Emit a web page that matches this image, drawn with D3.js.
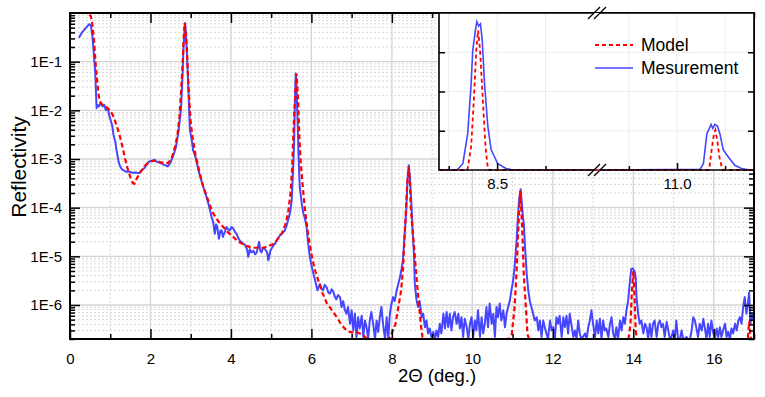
<!DOCTYPE html>
<html>
<head>
<meta charset="UTF-8">
<script src="https://d3js.org/d3.v7.min.js"></script>
<style>
  body { margin: 0; background: #fff; }
  text { font-family: Arial, "Liberation Sans", sans-serif; fill: #000; }
</style>
</head>
<body>
<div id="chart"></div>
<script>
// ---- values ----
// measured reflectivity, [2theta, R]
var measurement = [
  [0.22,0.31],[0.30,0.40],[0.40,0.50],[0.48,0.59],[0.52,0.55],[0.56,0.31],[0.60,0.12],[0.63,0.054],
  [0.66,0.011],[0.68,0.013],[0.72,0.012],[0.77,0.0145],[0.81,0.012],[0.85,0.013],[0.89,0.010],[0.94,0.011],
  [0.98,0.0075],[1.02,0.0059],[1.05,0.0048],[1.08,0.0032],[1.10,0.0027],[1.13,0.0022],[1.15,0.0016],[1.18,0.0012],
  [1.21,0.00085],[1.23,0.00076],[1.27,0.00065],[1.31,0.0006],[1.39,0.00055],[1.47,0.00055],[1.55,0.00052],[1.64,0.00053],
  [1.72,0.00051],[1.78,0.00058],[1.85,0.00065],[1.91,0.00078],[1.97,0.00089],[2.03,0.00092],[2.10,0.00096],[2.16,0.00088],
  [2.22,0.00085],[2.28,0.0008],[2.34,0.00076],[2.40,0.00072],[2.43,0.0007],[2.47,0.00078],[2.51,0.00089],[2.57,0.0012],
  [2.63,0.0017],[2.70,0.0038],[2.76,0.011],[2.80,0.06],[2.82,0.19],[2.86,0.62],[2.88,0.40],[2.90,0.19],
  [2.93,0.05],[2.96,0.011],[2.98,0.004],[3.03,0.0023],[3.06,0.0015],[3.12,0.0011],[3.19,0.00059],[3.25,0.0004],
  [3.31,0.00027],[3.38,0.00018],[3.44,0.00012],[3.52,0.000064],[3.56,0.00005],[3.60,0.000029],[3.63,0.000045],[3.66,0.00004],
  [3.70,0.000023],[3.74,0.000034],[3.77,0.000034],[3.80,0.000025],[3.85,0.000032],[3.89,0.00004],[3.93,0.000036],[3.97,0.000034],
  [4.02,0.00004],[4.06,0.000037],[4.10,0.000032],[4.14,0.000029],[4.18,0.000024],[4.22,0.000021],[4.28,0.000019],[4.35,0.000017],
  [4.40,0.000014],[4.43,0.0000098],[4.47,0.000014],[4.51,0.000012],[4.56,0.000013],[4.60,0.000011],[4.64,0.000012],[4.70,0.00002],
  [4.73,0.000013],[4.76,0.000012],[4.80,0.000015],[4.85,0.000014],[4.90,0.000012],[4.93,0.0000083],[4.98,0.000013],[5.04,0.000016],
  [5.09,0.000018],[5.15,0.000022],[5.22,0.000027],[5.28,0.00003],[5.34,0.000034],[5.38,0.000042],[5.42,0.000055],[5.47,0.00008],
  [5.51,0.00014],[5.54,0.0005],[5.57,0.0021],[5.59,0.015],[5.61,0.057],[5.63,0.03],[5.66,0.0046],[5.68,0.0012],
  [5.71,0.00027],[5.76,0.00012],[5.80,0.000076],[5.84,0.00006],[5.88,0.00004],[5.92,0.000018],[5.96,0.0000098],[6.01,0.000006],
  [6.05,0.0000044],[6.10,0.000003],[6.15,0.000002],[6.21,2.7e-6],[6.25,2.2e-6],[6.29,2.0e-6],[6.33,2.6e-6],[6.38,2.3e-6],
  [6.42,1.8e-6],[6.46,1.7e-6],[6.50,2.1e-6],[6.54,1.9e-6],[6.58,1.5e-6],[6.62,1.3e-6],[6.66,1.6e-6],[6.71,1.45e-6],
  [6.75,9.1e-7],[6.79,1.2e-6],[6.83,8e-7],[6.87,6.6e-7],[6.91,9.1e-7],[6.96,4.1e-7],[7.00,7.8e-7],[7.04,3.0e-7],
  [7.08,6.6e-7],[7.12,2.2e-7],[7.16,5.6e-7],[7.20,3.3e-7],[7.25,6.0e-7],[7.29,2.2e-7],[7.33,4.8e-7],[7.37,3.5e-7],
  [7.41,2.0e-7],[7.45,4.8e-7],[7.49,7.2e-7],[7.54,3.8e-7],[7.58,2.0e-7],[7.62,4.8e-7],[7.66,2.8e-7],[7.70,5.6e-7],
  [7.74,9.1e-7],[7.78,4.1e-7],[7.83,2.0e-7],[7.87,5.6e-7],[7.91,2.0e-7],[7.95,6.6e-7],[7.99,1.07e-6],[8.03,1.45e-6],
  [8.07,1.2e-6],[8.12,2.0e-6],[8.16,2.7e-6],[8.20,3.7e-6],[8.24,5.5e-6],[8.27,8e-6],[8.29,1.3e-5],[8.33,4e-5],
  [8.36,1e-4],[8.39,4e-4],[8.42,7.4e-4],[8.45,4e-4],[8.49,1e-4],[8.52,3e-5],[8.55,1e-5],[8.57,2.7e-6],
  [8.61,1.3e-6],[8.65,9.1e-7],[8.69,1.2e-6],[8.74,5.6e-7],[8.78,6.6e-7],[8.82,3.5e-7],[8.86,4.8e-7],[8.90,2.6e-7],
  [8.94,3.3e-7],[8.98,2.2e-7],[9.03,2.8e-7],[9.07,2.0e-7],[9.11,3.0e-7],[9.15,2.2e-7],[9.19,4.1e-7],[9.23,2.6e-7],
  [9.28,6.6e-7],[9.32,3.3e-7],[9.36,7.2e-7],[9.40,3.5e-7],[9.44,6.6e-7],[9.48,3.0e-7],[9.52,5.6e-7],[9.56,7.2e-7],
  [9.61,4.1e-7],[9.65,6.6e-7],[9.69,3.3e-7],[9.73,5.6e-7],[9.77,2.2e-7],[9.81,5.2e-7],[9.86,3.5e-7],[9.90,2.0e-7],
  [9.94,4.1e-7],[9.98,5.6e-7],[10.02,2.2e-7],[10.06,4.8e-7],[10.10,3.0e-7],[10.14,7.8e-7],[10.19,2.2e-7],[10.23,5.6e-7],
  [10.27,2.6e-7],[10.31,4.1e-7],[10.35,9.1e-7],[10.39,3.5e-7],[10.43,1.07e-6],[10.48,4.1e-7],[10.52,6.6e-7],[10.56,2.2e-7],
  [10.60,9.1e-7],[10.64,5.6e-7],[10.68,1.07e-6],[10.72,4.8e-7],[10.77,7.8e-7],[10.81,3.5e-7],[10.85,6.6e-7],[10.89,9.1e-7],
  [10.93,1.2e-6],[10.97,2.0e-6],[11.01,3.0e-6],[11.05,6e-6],[11.10,2.1e-5],[11.13,6e-5],[11.16,1.4e-4],[11.20,2.4e-4],
  [11.23,1.2e-4],[11.26,6e-5],[11.28,4.7e-5],[11.31,1.5e-5],[11.35,4.4e-6],[11.39,2e-6],[11.43,1.2e-6],[11.47,9e-7],
  [11.51,6.6e-7],[11.55,4.8e-7],[11.60,5.6e-7],[11.64,3.0e-7],[11.68,4.8e-7],[11.72,2.2e-7],[11.76,4.8e-7],[11.80,3.5e-7],
  [11.84,2.6e-7],[11.88,2.0e-7],[11.93,4.8e-7],[11.97,3.0e-7],[12.01,3.5e-7],[12.05,2.0e-7],[12.09,5.6e-7],[12.13,4.1e-7],
  [12.17,6.0e-7],[12.22,2.2e-7],[12.26,5.6e-7],[12.30,3.5e-7],[12.34,6.0e-7],[12.38,2.6e-7],[12.42,6.6e-7],[12.46,4.1e-7],
  [12.51,2.2e-7],[12.55,3.0e-7],[12.59,2.0e-7],[12.63,4.8e-7],[12.67,2.6e-7],[12.71,2.0e-7],[12.75,2.2e-7],[12.80,2.6e-7],
  [12.84,2.0e-7],[12.88,3.5e-7],[12.92,4.8e-7],[12.96,7.8e-7],[13.00,4.1e-7],[13.05,2.2e-7],[13.09,4.8e-7],[13.13,2.6e-7],
  [13.17,5.2e-7],[13.21,2.0e-7],[13.25,4.8e-7],[13.29,3.0e-7],[13.33,3.3e-7],[13.38,2.2e-7],[13.42,4.1e-7],[13.46,5.6e-7],
  [13.50,2.6e-7],[13.54,2.0e-7],[13.58,3.5e-7],[13.62,2.0e-7],[13.67,4.8e-7],[13.71,3.0e-7],[13.75,5.6e-7],[13.79,4.1e-7],
  [13.83,7.8e-7],[13.87,1.2e-6],[13.91,2.7e-6],[13.95,5.5e-6],[13.99,5.6e-6],[14.03,5e-6],[14.06,3.7e-6],[14.08,1.45e-6],
  [14.12,6.6e-7],[14.16,4.1e-7],[14.20,4.8e-7],[14.25,2.6e-7],[14.29,4.1e-7],[14.33,3.5e-7],[14.37,2.0e-7],[14.41,4.1e-7],
  [14.45,2.2e-7],[14.49,4.1e-7],[14.53,4.8e-7],[14.58,2.2e-7],[14.62,4.1e-7],[14.66,4.8e-7],[14.70,3.5e-7],[14.74,4.1e-7],
  [14.78,2.2e-7],[14.83,4.5e-7],[14.87,3.0e-7],[14.91,2.0e-7],[14.95,2.2e-7],[14.99,3.0e-7],[15.03,2.0e-7],[15.07,4.8e-7],
  [15.11,2.0e-7],[15.16,2.0e-7],[15.20,3.0e-7],[15.24,2.0e-7],[15.28,2.0e-7],[15.32,2.2e-7],[15.36,2.0e-7],[15.41,2.0e-7],
  [15.45,3.0e-7],[15.49,5.6e-7],[15.53,4.8e-7],[15.57,3.3e-7],[15.61,2.2e-7],[15.65,4.1e-7],[15.70,3.0e-7],[15.74,5.2e-7],
  [15.78,3.3e-7],[15.82,2.0e-7],[15.86,4.1e-7],[15.90,2.2e-7],[15.94,4.8e-7],[15.99,2.6e-7],[16.03,2.0e-7],[16.07,3.3e-7],
  [16.11,2.2e-7],[16.15,3.5e-7],[16.19,2.2e-7],[16.23,3.0e-7],[16.28,4.1e-7],[16.32,2.2e-7],[16.36,2.8e-7],[16.40,2.0e-7],
  [16.44,3.3e-7],[16.48,2.6e-7],[16.53,4.1e-7],[16.57,3.0e-7],[16.61,4.8e-7],[16.65,5.6e-7],[16.69,4.1e-7],[16.73,9.1e-7],
  [16.77,1.45e-6],[16.81,6.6e-7],[16.85,1.1e-6],[16.88,1.8e-6],[16.91,4.1e-7],[16.95,6.6e-7],[16.99,4.8e-7]
];

// fitted model, [2theta, R] (values under the axis floor sit on the bottom edge)
var model = [
  [0.10,1.0],[0.40,1.0],[0.46,0.98],[0.52,0.85],[0.56,0.55],[0.60,0.26],[0.63,0.11],[0.66,0.054],
  [0.70,0.025],[0.73,0.016],[0.77,0.014],[0.81,0.013],[0.88,0.012],[0.94,0.011],[1.00,0.0098],[1.06,0.0081],
  [1.12,0.006],[1.18,0.0043],[1.25,0.0027],[1.31,0.0017],[1.37,0.001],[1.43,0.00065],[1.50,0.00042],[1.56,0.00032],
  [1.60,0.00031],[1.64,0.00037],[1.70,0.00046],[1.76,0.00055],[1.85,0.00071],[1.93,0.00082],[2.02,0.0009],[2.10,0.00092],
  [2.18,0.0009],[2.26,0.00085],[2.35,0.00082],[2.43,0.00082],[2.50,0.00095],[2.55,0.0012],[2.61,0.0018],[2.67,0.0031],
  [2.72,0.0075],[2.76,0.024],[2.80,0.09],[2.82,0.26],[2.85,0.62],[2.87,0.45],[2.90,0.22],[2.93,0.06],
  [2.96,0.018],[3.00,0.0055],[3.05,0.0027],[3.12,0.0012],[3.21,0.00058],[3.30,0.00029],[3.40,0.00017],[3.48,0.00011],
  [3.56,0.000076],[3.68,0.000053],[3.81,0.00004],[3.93,0.000031],[4.06,0.000025],[4.18,0.00002],[4.30,0.000018],[4.42,0.000016],
  [4.55,0.000015],[4.68,0.000015],[4.80,0.000015],[4.92,0.000016],[5.05,0.000018],[5.15,0.000022],[5.26,0.000029],[5.35,0.000045],
  [5.42,0.000076],[5.48,0.0002],[5.52,0.00059],[5.56,0.005],[5.59,0.016],[5.63,0.057],[5.67,0.016],[5.70,0.003],
  [5.73,0.00095],[5.78,0.0003],[5.84,0.000089],[5.92,0.000028],[6.00,0.000011],[6.08,0.0000055],[6.17,0.0000032],[6.27,0.0000018],
  [6.38,0.0000011],[6.50,0.0000008],[6.63,0.00000056],[6.74,0.0000004],[6.84,0.00000032],[6.95,0.00000028],[7.05,0.00000027],[7.12,0.00000028],
  [7.20,0.00000026],[7.28,0.00000024],[7.36,0.00000021],[7.45,0.00000019],[7.55,0.00000015],[7.65,0.00000012],[7.73,0.0000001],[7.85,0.00000012],
  [7.93,0.00000018],[8.01,0.00000028],[8.09,0.00000041],[8.16,0.0000009],[8.23,0.000002],[8.28,0.000006],[8.31,0.000021],[8.35,0.00009],
  [8.38,0.0003],[8.42,0.0007],[8.45,0.0003],[8.47,0.0001],[8.52,0.00003],[8.56,0.000013],[8.60,0.000005],[8.64,0.000002],
  [8.68,0.0000009],[8.72,0.0000004],[8.76,0.00000022],[8.81,0.00000015],[8.90,0.0000001],[10.90,0.0000001],[10.98,0.00000025],[11.05,0.0000009],
  [11.10,0.000005],[11.13,0.000021],[11.16,0.00008],[11.19,0.00022],[11.22,0.00008],[11.25,0.000021],[11.28,0.000004],[11.33,0.0000009],
  [11.37,0.00000025],[11.41,0.0000001],[13.88,0.0000001],[13.93,0.0000004],[13.96,0.0000016],[14.00,0.000005],[14.03,0.0000016],[14.06,0.0000003],
  [14.09,0.0000001],[16.82,0.0000001],[16.85,0.00000022],[16.88,0.00000046],[16.91,0.00000022],[16.94,0.0000001],[17.00,0.0000001]
];

// inset (linear, broken axis 8.2-9.0 // 10.6-11.4)
var insetMeasurement = [
  [8.20,0],[8.29,0],[8.297,0.005],[8.323,0.04],[8.348,0.23],[8.366,0.55],[8.374,0.76],[8.388,0.89],
  [8.395,0.945],[8.405,0.917],[8.414,0.93],[8.423,0.83],[8.435,0.55],[8.452,0.28],[8.469,0.13],[8.503,0.04],
  [8.546,0.01],[8.58,0],[9.0,0],[10.6,0],[11.12,0.005],[11.137,0.04],[11.155,0.23],[11.168,0.265],
  [11.177,0.29],[11.186,0.265],[11.197,0.29],[11.21,0.28],[11.223,0.23],[11.24,0.13],[11.266,0.085],[11.30,0.03],
  [11.335,0.01],[11.378,0],[11.4,0]
];
var insetModel = [
  [8.20,0],[8.345,0],[8.348,0.01],[8.366,0.15],[8.38,0.45],[8.392,0.76],[8.402,0.89],[8.412,0.76],
  [8.426,0.45],[8.44,0.15],[8.452,0.01],[8.46,0],[9.0,0],[10.6,0],[11.165,0],[11.168,0.01],
  [11.18,0.13],[11.192,0.23],[11.199,0.255],[11.209,0.19],[11.22,0.085],[11.234,0.01],[11.24,0],[11.4,0]
];

var xMajor = [0, 2, 4, 6, 8, 10, 12, 14, 16];
var xMinor = [1, 3, 5, 7, 9, 11, 13, 15, 17];
var yMajor = [1e-6, 1e-5, 1e-4, 1e-3, 1e-2, 1e-1];
var insetXTicks = [8.25, 8.5, 8.75, 10.75, 11.0, 11.25];
var insetXLabels = [8.5, 11.0];
var insetYTicks = [0.25, 0.5, 0.75];
var legendNames = ["Model", "Mesurement"];

var blue = "#4646ff", red = "#ff0000";

// ---- layout ----
var W = 765, H = 397;
var L = 70, R = 754, T = 13, B = 339;

var svg = d3.select("#chart").append("svg")
    .attr("width", W).attr("height", H);

var x = d3.scaleLinear().domain([0, 17]).range([L, R]);
var y = d3.scaleLog().domain([2e-7, 1]).range([B, T]).clamp(true);

var yMinor = [];
for (var e = -7; e <= -1; e++) {
  for (var m = 2; m <= 9; m++) {
    var v = m * Math.pow(10, e);
    if (v >= 2e-7 && v < 1) yMinor.push(v);
  }
}

// grid
var grid = svg.append("g");
grid.selectAll(".gxm").data(xMinor.filter(d => d < 17)).enter().append("line")
    .attr("x1", d => x(d)).attr("x2", d => x(d)).attr("y1", T).attr("y2", B)
    .attr("stroke", "#d8d8d8").attr("stroke-width", 1).attr("stroke-dasharray", "2,2");
grid.selectAll(".gym").data(yMinor).enter().append("line")
    .attr("x1", L).attr("x2", R).attr("y1", d => y(d)).attr("y2", d => y(d))
    .attr("stroke", "#d8d8d8").attr("stroke-width", 1).attr("stroke-dasharray", "2,2");
grid.selectAll(".gx").data(xMajor.slice(1)).enter().append("line")
    .attr("x1", d => x(d)).attr("x2", d => x(d)).attr("y1", T).attr("y2", B)
    .attr("stroke", "#d4d4d4").attr("stroke-width", 1.3);
grid.selectAll(".gy").data(yMajor).enter().append("line")
    .attr("x1", L).attr("x2", R).attr("y1", d => y(d)).attr("y2", d => y(d))
    .attr("stroke", "#d4d4d4").attr("stroke-width", 1.3);

// curves
svg.append("clipPath").attr("id", "plotclip").append("rect")
    .attr("x", L).attr("y", T - 1).attr("width", R - L).attr("height", B - T + 2);

var line = d3.line().x(d => x(d[0])).y(d => y(d[1]));
var curves = svg.append("g").attr("clip-path", "url(#plotclip)");
curves.append("path").datum(measurement).attr("d", line)
    .attr("fill", "none").attr("stroke", blue).attr("stroke-width", 2).attr("stroke-linejoin", "round");
curves.append("path").datum(model).attr("d", line)
    .attr("fill", "none").attr("stroke", red).attr("stroke-width", 2.2).attr("stroke-dasharray", "5,3");

// axes (ticks point inward on all four sides)
function tidy(g) {
  g.select(".domain").remove();
  g.selectAll("line").attr("stroke", "#000").attr("stroke-width", 1.5);
  g.selectAll("text").attr("font-size", 15).attr("fill", "#000")
    .attr("font-family", "Arial, 'Liberation Sans', sans-serif");
}
svg.append("g").attr("transform", "translate(0," + B + ")")
    .call(d3.axisBottom(x).tickValues(xMajor).tickSizeInner(-10).tickSizeOuter(0).tickPadding(14).tickFormat(d3.format("d")))
    .call(tidy);
svg.append("g").attr("transform", "translate(0," + B + ")")
    .call(d3.axisBottom(x).tickValues(xMinor).tickSizeInner(-5).tickSizeOuter(0).tickFormat(""))
    .call(tidy);
svg.append("g").attr("transform", "translate(0," + T + ")")
    .call(d3.axisTop(x).tickValues(xMajor).tickSizeInner(-10).tickSizeOuter(0).tickFormat(""))
    .call(tidy);
svg.append("g").attr("transform", "translate(0," + T + ")")
    .call(d3.axisTop(x).tickValues(xMinor).tickSizeInner(-5).tickSizeOuter(0).tickFormat(""))
    .call(tidy);
svg.append("g").attr("transform", "translate(" + L + ",0)")
    .call(d3.axisLeft(y).tickValues(yMajor).tickSizeInner(-10).tickSizeOuter(0).tickPadding(8)
      .tickFormat(d => "1E" + Math.round(Math.log10(d))))
    .call(tidy);
svg.append("g").attr("transform", "translate(" + L + ",0)")
    .call(d3.axisLeft(y).tickValues(yMinor).tickSizeInner(-5).tickSizeOuter(0).tickFormat(""))
    .call(tidy);
svg.append("g").attr("transform", "translate(" + R + ",0)")
    .call(d3.axisRight(y).tickValues(yMajor).tickSizeInner(-10).tickSizeOuter(0).tickFormat(""))
    .call(tidy);
svg.append("g").attr("transform", "translate(" + R + ",0)")
    .call(d3.axisRight(y).tickValues(yMinor).tickSizeInner(-5).tickSizeOuter(0).tickFormat(""))
    .call(tidy);

svg.append("rect").attr("x", L).attr("y", T).attr("width", R - L).attr("height", B - T)
    .attr("fill", "none").attr("stroke", "#000").attr("stroke-width", 2);

// axis titles
svg.append("text").attr("x", 437).attr("y", 382).attr("text-anchor", "middle")
    .attr("font-size", 18.5).text("2\u0398 (deg.)");
svg.append("text").attr("transform", "translate(26,167) rotate(-90)").attr("text-anchor", "middle")
    .attr("font-size", 21).text("Reflectivity");

// ---- inset ----
var iL = 439, iR = 754, iT = 13, iB = 170, gapL = 594, gapR = 600;
var xi = d3.scaleLinear().domain([8.2, 9.0, 10.6, 11.4]).range([iL, gapL, gapR, iR]);
var yi = d3.scaleLinear().domain([0, 1]).range([iB, iT]);

var inset = svg.append("g");
inset.append("rect").attr("x", iL).attr("y", iT).attr("width", iR - iL).attr("height", iB - iT)
    .attr("fill", "#fff");
inset.selectAll(".igx").data(insetXTicks).enter().append("line")
    .attr("x1", d => xi(d)).attr("x2", d => xi(d)).attr("y1", iT).attr("y2", iB)
    .attr("stroke", "#ececec").attr("stroke-width", 1);
inset.selectAll(".igy").data(insetYTicks).enter().append("line")
    .attr("x1", iL).attr("x2", iR).attr("y1", d => yi(d)).attr("y2", d => yi(d))
    .attr("stroke", "#ececec").attr("stroke-width", 1);

svg.append("clipPath").attr("id", "insetclip").append("rect")
    .attr("x", iL).attr("y", iT).attr("width", iR - iL).attr("height", iB - iT + 2);
var iline = d3.line().x(d => xi(d[0])).y(d => yi(d[1]));
var icurves = inset.append("g").attr("clip-path", "url(#insetclip)");
icurves.append("path").datum(insetMeasurement).attr("d", iline)
    .attr("fill", "none").attr("stroke", blue).attr("stroke-width", 1.6);
icurves.append("path").datum(insetModel).attr("d", iline)
    .attr("fill", "none").attr("stroke", red).attr("stroke-width", 1.8).attr("stroke-dasharray", "4,3");

// inset ticks
inset.append("g").attr("transform", "translate(0," + iB + ")")
    .call(d3.axisBottom(xi).tickValues(insetXTicks).tickSizeOuter(0).tickPadding(8)
      .tickSizeInner(-5).tickFormat(d => insetXLabels.indexOf(d) >= 0 ? d3.format(".1f")(d) : ""))
    .call(tidy)
    .selectAll(".tick line").attr("y2", d => insetXLabels.indexOf(d) >= 0 ? -7 : -4);
inset.append("g").attr("transform", "translate(" + iL + ",0)")
    .call(d3.axisLeft(yi).tickValues(insetYTicks).tickSizeInner(-6).tickSizeOuter(0).tickFormat(""))
    .call(tidy);
inset.append("g").attr("transform", "translate(" + iR + ",0)")
    .call(d3.axisRight(yi).tickValues(insetYTicks).tickSizeInner(-6).tickSizeOuter(0).tickFormat(""))
    .call(tidy);

// inset frame, broken at the gap
inset.append("path")
    .attr("d", "M" + gapL + "," + iT + "H" + iL + "V" + iB + "H" + gapL +
               "M" + gapR + "," + iT + "H" + iR + "V" + iB + "H" + gapR)
    .attr("fill", "none").attr("stroke", "#000").attr("stroke-width", 1.6);
[iT, iB].forEach(function(y0) {
  [-3, 3].forEach(function(dx) {
    var cx = (gapL + gapR) / 2 + dx;
    inset.append("line").attr("x1", cx - 6).attr("y1", y0 + 6).attr("x2", cx + 6).attr("y2", y0 - 6)
        .attr("stroke", "#000").attr("stroke-width", 1.3);
  });
});

// legend
var legend = inset.selectAll(".legend").data(legendNames).enter().append("g")
    .attr("transform", (d, i) => "translate(595," + (45 + i * 23) + ")");
legend.append("line").attr("x1", 0).attr("x2", 38).attr("y1", 0).attr("y2", 0)
    .attr("stroke", (d, i) => i === 0 ? red : blue)
    .attr("stroke-width", (d, i) => i === 0 ? 1.8 : 1.6)
    .attr("stroke-dasharray", (d, i) => i === 0 ? "4,3" : null);
legend.append("text").attr("x", 46).attr("y", 6).attr("font-size", 17.5).text(d => d);
</script>
</body>
</html>
